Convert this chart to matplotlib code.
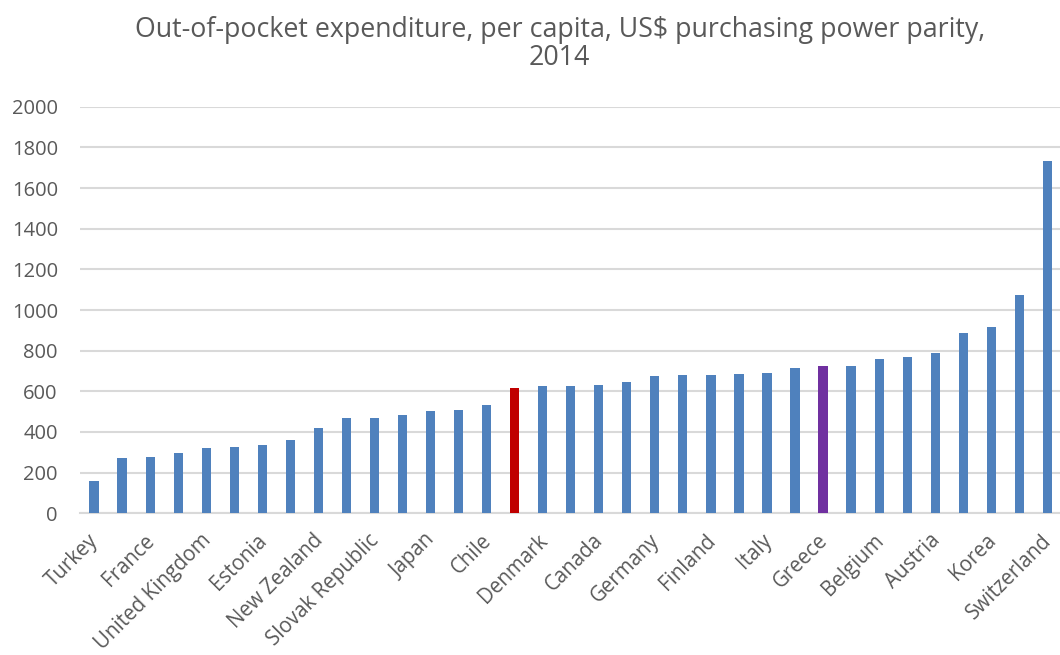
import matplotlib
matplotlib.use('Agg')
import matplotlib.pyplot as plt
import matplotlib.transforms as mtransforms
import numpy as np

plt.rcParams['font.family'] = ['Open Sans', 'DejaVu Sans']

# countries sorted by spending, OECD average included
countries = ['Turkey', 'Luxembourg', 'France', 'Czech Republic', 'United Kingdom',
             'Slovenia', 'Estonia', 'Poland', 'New Zealand', 'Netherlands',
             'Slovak Republic', 'Hungary', 'Japan', 'Ireland', 'Chile', 'OECD',
             'Denmark', 'Israel', 'Canada', 'Sweden', 'Germany', 'Mexico',
             'Finland', 'Norway', 'Italy', 'Iceland', 'Greece', 'Portugal',
             'Belgium', 'Spain', 'Austria', 'Australia', 'Korea', 'United States',
             'Switzerland']
oop = [159, 270, 277, 298, 320, 326, 336, 361, 420, 467,
       469, 482, 502, 508, 534, 615, 625, 626, 630, 644,
       674, 679, 679, 687, 689, 715, 725, 725, 757, 770,
       788, 887, 918, 1072, 1731]
highlight = {'OECD': '#c00000', 'Greece': '#7030a0'}
base_color = '#4f81bd'
txt_color = '#595959'

colors = [highlight.get(c, base_color) for c in countries]
x = np.arange(len(countries))

fig = plt.figure(figsize=(10.6, 6.55), dpi=100)
ax = fig.add_axes([0.0755, 0.2163, 0.9245, 0.6208])

ax.bar(x, oop, width=0.33, color=colors, zorder=3)

ax.set_ylim(0, 2000)
ax.set_yticks(range(0, 2001, 200))
ax.set_xlim(-0.5, 34.45)
ax.grid(axis='y', color='#d9d9d9', linewidth=1.5, zorder=0)
for s in ['top', 'right', 'left']:
    ax.spines[s].set_visible(False)
ax.spines['bottom'].set_color('#d9d9d9')
ax.spines['bottom'].set_linewidth(1.5)

ax.tick_params(axis='y', length=0, pad=16, labelsize=14.5, labelcolor=txt_color)
ax.tick_params(axis='x', length=0, pad=12, labelsize=14.8, labelcolor=txt_color)

# only every second country gets a label
ax.set_xticks(x[::2])
ax.set_xticklabels(countries[::2], rotation=45, ha='right', rotation_mode='anchor')
# nudge the rotated labels a little to the left
shift = mtransforms.ScaledTranslation(-6 / 100, 0, fig.dpi_scale_trans)
for lbl in ax.get_xticklabels():
    lbl.set_transform(lbl.get_transform() + shift)

fig.text(0.528, 0.954, 'Out-of-pocket expenditure, per capita, US$ purchasing power parity,',
         ha='center', va='center', fontsize=19.3, color=txt_color)
fig.text(0.528, 0.911, '2014', ha='center', va='center', fontsize=19.3, color=txt_color)

fig.savefig('out.png', dpi=100)
